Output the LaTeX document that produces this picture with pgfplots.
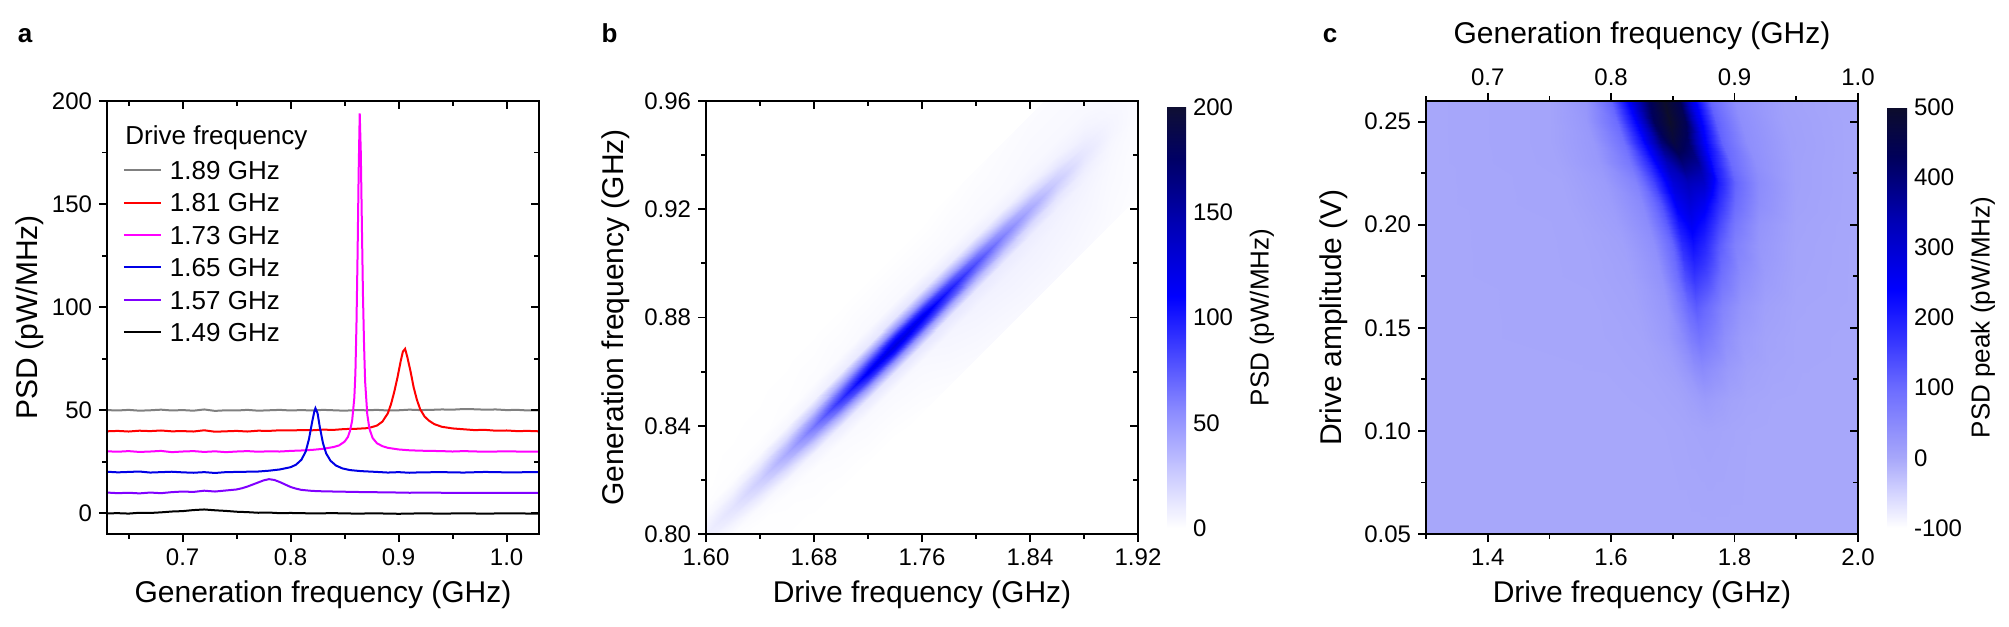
\documentclass[border=0pt]{standalone}
\usepackage{pgfplots}
\pgfplotsset{compat=1.18}
\usepackage{fontspec}
\setmainfont{Liberation Sans}
\newcommand{\tickfont}{\fontsize{12bp}{14bp}\selectfont}
\newcommand{\labfont}{\fontsize{15bp}{18bp}\selectfont}
\newcommand{\cbfont}{\fontsize{13bp}{15bp}\selectfont}
\newcommand{\legfont}{\fontsize{13bp}{15bp}\selectfont}
\definecolor{cgray}{rgb}{0.5,0.5,0.5}
\definecolor{cred}{rgb}{1,0,0}
\definecolor{cmag}{rgb}{1,0,1}
\definecolor{cblue}{rgb}{0,0,0.9}
\definecolor{cviol}{rgb}{0.5,0,1}
\pgfplotsset{
  colormap={cmapb}{rgb(0)=(1,1,1) rgb(25)=(0.8,0.8,1) rgb(55)=(0.55,0.55,1) rgb(85)=(0.25,0.25,1) rgb(110)=(0,0,1) rgb(145)=(0,0,0.7) rgb(175)=(0,0,0.4) rgb(200)=(0.06,0.06,0.2)},
  colormap={cmapc}{rgb(0)=(1,1,1) rgb(50)=(0.83,0.83,1) rgb(100)=(0.655,0.655,0.98) rgb(200)=(0.42,0.42,1) rgb(270)=(0.2,0.2,1) rgb(340)=(0,0,1) rgb(440)=(0,0,0.7) rgb(530)=(0,0,0.35) rgb(600)=(0.05,0.05,0.17)},
  /pgf/number format/assume math mode=true,
  myax/.style={
    scale only axis, width=216bp, height=216.5bp, anchor=south west,
    axis line style={line width=1bp, black},
    tick style={line width=0.9bp, black},
    major tick length=4bp, minor tick length=2.3bp,
    tick label style={font=\tickfont},
    label style={font=\labfont},
    xlabel style={at={(axis description cs:0.5,-0.141)}, anchor=center},
    ylabel style={anchor=center},
  },
  heat/.style={
    scale only axis, width=216bp, height=216.5bp, anchor=south west,
    view={0}{90}, hide axis, clip=true,
  },
  mycb/.style={
    width=9.5bp, height=210.5bp,
    at={(parent axis.east)}, anchor=west, xshift=6bp,
    major tick length=0pt, minor tick length=0pt,
    axis line style={draw=none},
    yticklabel style={font=\tickfont},
    ylabel style={font=\cbfont, anchor=center},
  },
}
\begin{document}
\begin{tikzpicture}
\useasboundingbox (0,0) rectangle (1004.5bp,313.5bp);

% ---------------- panel a ----------------
\begin{axis}[myax, at={(53.5bp,46.5bp)},
  xmin=0.63, xmax=1.03, ymin=-10, ymax=200,
  xtick={0.7,0.8,0.9,1.0}, minor xtick={0.65,0.75,0.85,0.95},
  ytick={0,50,100,150,200}, minor ytick={25,75,125,175},
  xtick pos=left, ytick pos=left, tick align=outside,
  xticklabel style={/pgf/number format/.cd, fixed, fixed zerofill, precision=1},
  xlabel={Generation frequency (GHz)}, ylabel={PSD (pW/MHz)},
  ylabel style={at={(axis description cs:-0.178,0.5)}},
  legend style={at={(axis description cs:0.037,0.862)}, anchor=north west, draw=none, fill=none,
    inner sep=0pt, outer sep=0pt, font=\legfont, row sep=6.8bp,
    nodes={inner sep=0pt, text height=9.4bp, text depth=0pt},
    /tikz/every odd column/.append style={column sep=4bp}},
  legend cell align=left,
  legend image code/.code={\draw[#1, line width=1bp] (0bp,0bp) -- (18.5bp,0bp);},
]
\addplot[cgray, line width=1bp] coordinates {(0.63,50.1) (0.64,49.9) (0.65,50.2) (0.66,49.8) (0.67,50.0) (0.68,50.3) (0.69,49.9) (0.70,50.1) (0.71,49.8) (0.72,50.4) (0.73,49.7) (0.74,50.0) (0.75,49.9) (0.76,50.2) (0.77,49.8) (0.78,50.0) (0.79,50.2) (0.80,49.9) (0.81,50.1) (0.82,49.9) (0.83,50.2) (0.84,50.0) (0.85,49.8) (0.86,50.1) (0.87,50.0) (0.88,50.2) (0.89,49.9) (0.90,50.0) (0.91,50.3) (0.92,50.1) (0.93,50.2) (0.94,50.4) (0.95,50.3) (0.96,50.6) (0.97,50.5) (0.98,50.3) (0.99,50.4) (1.00,50.1) (1.01,50.2) (1.02,49.9) (1.03,50.0)};
\addlegendentry{1.89 GHz}
\addplot[cred, line width=1bp] coordinates {(0.63,39.8) (0.64,40.0) (0.65,39.7) (0.66,40.1) (0.67,39.9) (0.68,40.2) (0.69,39.8) (0.70,39.9) (0.71,39.7) (0.72,40.3) (0.73,39.6) (0.74,39.8) (0.75,40.0) (0.76,39.7) (0.77,40.1) (0.78,40.0) (0.79,40.3) (0.80,40.2) (0.81,40.4) (0.82,40.3) (0.83,40.6) (0.84,40.5) (0.85,40.9) (0.86,41.0) (0.87,41.3) (0.875,41.8) (0.88,42.6) (0.885,44.5) (0.89,48.5) (0.893,53) (0.896,59) (0.899,66) (0.902,74) (0.904,78.5) (0.906,79.8) (0.908,76) (0.911,69) (0.914,61) (0.917,55) (0.92,50.5) (0.924,47) (0.928,45) (0.933,43.3) (0.94,42) (0.95,41.2) (0.96,40.8) (0.97,40.4) (0.98,40.5) (0.99,40.1) (1.00,40.2) (1.01,39.9) (1.02,40.0) (1.03,39.8)};
\addlegendentry{1.81 GHz}
\addplot[cmag, line width=1bp] coordinates {(0.63,30.1) (0.64,29.9) (0.65,30.2) (0.66,29.8) (0.67,30.0) (0.68,30.3) (0.69,29.7) (0.70,30.0) (0.71,30.2) (0.72,29.8) (0.73,30.1) (0.74,29.7) (0.75,30.0) (0.76,30.2) (0.77,29.9) (0.78,30.1) (0.79,30.0) (0.80,30.3) (0.81,30.5) (0.82,30.8) (0.83,31.3) (0.84,32.2) (0.845,33.0) (0.85,34.8) (0.853,37) (0.855,40) (0.857,45) (0.859,56) (0.860,68) (0.861,92) (0.862,125) (0.863,165) (0.864,194) (0.865,175) (0.866,140) (0.867,106) (0.868,82) (0.869,64) (0.871,48) (0.873,41) (0.876,36.5) (0.88,34) (0.885,32.6) (0.89,31.8) (0.90,31.0) (0.91,30.6) (0.92,30.4) (0.94,30.2) (0.95,30.0) (0.96,30.2) (0.98,29.9) (1.00,30.1) (1.02,29.9) (1.03,30.0)};
\addlegendentry{1.73 GHz}
\addplot[cblue, line width=1bp] coordinates {(0.63,20.2) (0.64,19.9) (0.65,20.1) (0.66,20.3) (0.67,19.8) (0.68,20.0) (0.69,20.2) (0.70,19.9) (0.71,19.7) (0.72,20.0) (0.73,19.6) (0.74,20.0) (0.75,20.1) (0.76,20.2) (0.77,20.3) (0.78,20.7) (0.79,21.3) (0.80,22.4) (0.805,23.6) (0.81,26) (0.814,30) (0.817,36) (0.82,44.5) (0.822,49.5) (0.823,51) (0.825,48.5) (0.827,42) (0.83,34) (0.833,29) (0.837,25.5) (0.842,23.2) (0.848,21.8) (0.855,21.0) (0.865,20.5) (0.88,20.1) (0.89,19.8) (0.90,20.0) (0.91,19.7) (0.92,19.9) (0.94,20.0) (0.96,19.8) (0.98,20.1) (1.00,19.9) (1.03,20.0)};
\addlegendentry{1.65 GHz}
\addplot[cviol, line width=1bp] coordinates {(0.63,10.1) (0.64,9.8) (0.65,10.0) (0.66,9.7) (0.67,10.1) (0.68,9.8) (0.69,10.3) (0.70,10.6) (0.71,10.4) (0.72,11.0) (0.73,10.6) (0.74,11.1) (0.75,11.6) (0.755,12.2) (0.76,13.0) (0.765,14.0) (0.77,15.0) (0.775,16.0) (0.78,16.6) (0.785,16.2) (0.79,15.2) (0.795,14.0) (0.80,12.8) (0.805,12.0) (0.81,11.4) (0.82,10.9) (0.83,10.7) (0.85,10.5) (0.87,10.3) (0.89,10.2) (0.91,10.0) (0.93,10.1) (0.95,9.9) (0.97,10.0) (1.00,9.9) (1.03,10.0)};
\addlegendentry{1.57 GHz}
\addplot[black, line width=1bp] coordinates {(0.63,0.0) (0.64,0.1) (0.65,-0.1) (0.66,0.3) (0.67,0.2) (0.68,0.5) (0.69,0.9) (0.70,1.1) (0.71,1.6) (0.72,1.9) (0.73,1.5) (0.74,1.2) (0.75,0.8) (0.76,0.6) (0.77,0.3) (0.78,0.4) (0.79,0.1) (0.80,0.2) (0.82,0.0) (0.84,0.1) (0.86,-0.1) (0.88,0.0) (0.90,-0.2) (0.92,0.0) (0.94,-0.1) (0.96,0.0) (0.98,-0.1) (1.00,0.0) (1.03,-0.1)};
\addlegendentry{1.49 GHz}
\node[anchor=base west, inner sep=0pt, font=\legfont] at (axis description cs:0.0417,0.9) {Drive frequency};
\end{axis}
\begin{axis}[myax, at={(53.5bp,46.5bp)},
  xmin=0.63, xmax=1.03, ymin=-10, ymax=200,
  xtick={0.7,0.8,0.9,1.0}, minor xtick={0.65,0.75,0.85,0.95},
  ytick={0,50,100,150,200}, minor ytick={25,75,125,175},
  xtick pos=right, ytick pos=right, tick align=inside, xticklabels={}, yticklabels={}]
\end{axis}

% ---------------- panel b ----------------
\begin{axis}[heat, at={(353bp,46.5bp)}, xmin=1.60, xmax=1.92, ymin=0.80, ymax=0.96,
  colormap name=cmapb, point meta min=0, point meta max=200]
\addplot3[surf, shader=interp, mesh/cols=11] coordinates {
(1.58,0.755,0) (1.58,0.774,0.1) (1.58,0.780,0.3) (1.58,0.784,1.3) (1.58,0.787,2.3) (1.58,0.790,3) (1.58,0.793,2.3) (1.58,0.796,1.3) (1.58,0.800,0.3) (1.58,0.806,0.1) (1.58,0.825,0)
(1.60,0.765,0) (1.60,0.784,0.2) (1.60,0.790,0.8) (1.60,0.794,3.4) (1.60,0.797,6.2) (1.60,0.800,8) (1.60,0.803,6.2) (1.60,0.806,3.4) (1.60,0.810,0.8) (1.60,0.816,0.2) (1.60,0.835,0)
(1.62,0.775,0) (1.62,0.794,0.4) (1.62,0.800,1.4) (1.62,0.804,5.9) (1.62,0.807,10.9) (1.62,0.810,14) (1.62,0.813,10.9) (1.62,0.816,5.9) (1.62,0.820,1.4) (1.62,0.826,0.4) (1.62,0.845,0)
(1.64,0.785,0) (1.64,0.804,0.6) (1.64,0.810,2.5) (1.64,0.814,10.5) (1.64,0.817,19.5) (1.64,0.820,25) (1.64,0.823,19.5) (1.64,0.826,10.5) (1.64,0.830,2.5) (1.64,0.836,0.6) (1.64,0.855,0)
(1.66,0.795,0) (1.66,0.814,1.0) (1.66,0.820,4.2) (1.66,0.824,17.6) (1.66,0.827,32.8) (1.66,0.830,42) (1.66,0.833,32.8) (1.66,0.836,17.6) (1.66,0.840,4.2) (1.66,0.846,1.0) (1.66,0.865,0)
(1.68,0.805,0) (1.68,0.824,1.6) (1.68,0.830,6.5) (1.68,0.834,27.3) (1.68,0.837,50.7) (1.68,0.840,65) (1.68,0.843,50.7) (1.68,0.846,27.3) (1.68,0.850,6.5) (1.68,0.856,1.6) (1.68,0.875,0)
(1.70,0.815,0) (1.70,0.834,2.3) (1.70,0.840,9.2) (1.70,0.844,38.6) (1.70,0.847,71.8) (1.70,0.850,92) (1.70,0.853,71.8) (1.70,0.856,38.6) (1.70,0.860,9.2) (1.70,0.866,2.3) (1.70,0.885,0)
(1.72,0.825,0) (1.72,0.844,2.9) (1.72,0.850,11.5) (1.72,0.854,48.3) (1.72,0.857,89.7) (1.72,0.860,115) (1.72,0.863,89.7) (1.72,0.866,48.3) (1.72,0.870,11.5) (1.72,0.876,2.9) (1.72,0.895,0)
(1.74,0.835,0) (1.74,0.854,3.1) (1.74,0.860,12.5) (1.74,0.864,52.5) (1.74,0.867,97.5) (1.74,0.870,125) (1.74,0.873,97.5) (1.74,0.876,52.5) (1.74,0.880,12.5) (1.74,0.886,3.1) (1.74,0.905,0)
(1.76,0.845,0.5) (1.76,0.864,3.5) (1.76,0.870,12.5) (1.76,0.874,49.6) (1.76,0.877,92) (1.76,0.880,118) (1.76,0.883,92) (1.76,0.886,49.6) (1.76,0.890,12) (1.76,0.896,3) (1.76,0.915,0)
(1.78,0.855,1.5) (1.78,0.874,5) (1.78,0.880,12) (1.78,0.884,42) (1.78,0.887,78) (1.78,0.890,100) (1.78,0.893,78) (1.78,0.896,42) (1.78,0.900,10) (1.78,0.906,3) (1.78,0.925,0.5)
(1.80,0.865,2.5) (1.80,0.884,6) (1.80,0.890,11) (1.80,0.894,34) (1.80,0.897,62.4) (1.80,0.900,80) (1.80,0.903,62.4) (1.80,0.906,33.6) (1.80,0.910,8.5) (1.80,0.916,3) (1.80,0.935,1)
(1.82,0.875,3) (1.82,0.894,6.5) (1.82,0.900,10) (1.82,0.904,26) (1.82,0.907,46.8) (1.82,0.910,60) (1.82,0.913,46.8) (1.82,0.916,25.2) (1.82,0.920,7) (1.82,0.926,3) (1.82,0.945,1.5)
(1.84,0.885,3.5) (1.84,0.904,6.5) (1.84,0.910,9) (1.84,0.914,19) (1.84,0.917,33) (1.84,0.920,42) (1.84,0.923,33) (1.84,0.926,18) (1.84,0.930,6.5) (1.84,0.936,3.5) (1.84,0.955,2)
(1.86,0.895,3.5) (1.86,0.914,6) (1.86,0.920,7.5) (1.86,0.924,12.5) (1.86,0.927,20) (1.86,0.930,25) (1.86,0.933,20) (1.86,0.936,12) (1.86,0.940,6) (1.86,0.946,3.5) (1.86,0.965,2)
(1.88,0.905,3) (1.88,0.924,5) (1.88,0.930,6) (1.88,0.934,8) (1.88,0.937,10.5) (1.88,0.940,12) (1.88,0.943,10.5) (1.88,0.946,8) (1.88,0.950,5.5) (1.88,0.956,3.5) (1.88,0.975,2)
(1.90,0.915,2) (1.90,0.934,3) (1.90,0.940,3.5) (1.90,0.944,4) (1.90,0.947,4.8) (1.90,0.950,5) (1.90,0.953,4.8) (1.90,0.956,4) (1.90,0.960,3.5) (1.90,0.966,2.5) (1.90,0.985,1.5)
(1.92,0.925,1) (1.92,0.944,1.5) (1.92,0.950,1.7) (1.92,0.954,1.9) (1.92,0.957,2) (1.92,0.960,2) (1.92,0.963,2) (1.92,0.966,1.9) (1.92,0.970,1.7) (1.92,0.976,1.5) (1.92,0.995,1)
(1.94,0.935,0) (1.94,0.954,0) (1.94,0.960,0) (1.94,0.964,0) (1.94,0.967,0) (1.94,0.970,0) (1.94,0.973,0) (1.94,0.976,0) (1.94,0.980,0) (1.94,0.986,0) (1.94,1.005,0)
};
\end{axis}
\begin{axis}[myax, at={(353bp,46.5bp)},
  xmin=1.60, xmax=1.92, ymin=0.80, ymax=0.96,
  xtick={1.60,1.68,1.76,1.84,1.92}, minor xtick={1.64,1.72,1.80,1.88},
  ytick={0.80,0.84,0.88,0.92,0.96}, minor ytick={0.82,0.86,0.90,0.94},
  xtick pos=left, ytick pos=left, tick align=outside,
  xticklabel style={/pgf/number format/.cd, fixed, fixed zerofill, precision=2},
  yticklabel style={/pgf/number format/.cd, fixed, fixed zerofill, precision=2},
  xlabel={Drive frequency (GHz)}, ylabel={Generation frequency (GHz)},
  ylabel style={at={(axis description cs:-0.209,0.5)}},
  colorbar, colormap name=cmapb, point meta min=0, point meta max=200,
  colorbar style={mycb, ytick={0,50,100,150,200}, ylabel={PSD (pW/MHz)},
    ylabel style={at={(axis description cs:5.0,0.5)}}},
]
\end{axis}
\begin{axis}[myax, at={(353bp,46.5bp)},
  xmin=1.60, xmax=1.92, ymin=0.80, ymax=0.96,
  xtick={1.60,1.68,1.76,1.84,1.92}, minor xtick={1.64,1.72,1.80,1.88},
  ytick={0.80,0.84,0.88,0.92,0.96}, minor ytick={0.82,0.86,0.90,0.94},
  xtick pos=right, ytick pos=right, tick align=inside, xticklabels={}, yticklabels={}]
\end{axis}

% ---------------- panel c ----------------
\begin{axis}[heat, at={(713bp,46.5bp)}, xmin=1.3, xmax=2.0, ymin=0.05, ymax=0.26,
  colormap name=cmapc, point meta min=-100, point meta max=500]
\addplot3[surf, shader=interp, mesh/cols=13] coordinates {
(1.30,0.05,0) (1.60,0.05,0) (1.67,0.05,0) (1.71,0.05,0) (1.73,0.05,0) (1.745,0.05,0) (1.755,0.05,0) (1.77,0.05,0) (1.795,0.05,0) (1.82,0.05,0) (1.86,0.05,0) (1.91,0.05,0) (2.00,0.05,0)
(1.30,0.10,0) (1.60,0.10,0) (1.67,0.10,0) (1.71,0.10,2) (1.73,0.10,4) (1.745,0.10,5) (1.755,0.10,6) (1.77,0.10,5) (1.795,0.10,3) (1.82,0.10,1) (1.86,0.10,0) (1.91,0.10,0) (2.00,0.10,0)
(1.30,0.115,0) (1.60,0.115,0) (1.67,0.115,2) (1.71,0.115,6) (1.73,0.115,12) (1.745,0.115,18) (1.752,0.115,20) (1.77,0.115,15) (1.795,0.115,8) (1.82,0.115,4) (1.86,0.115,1) (1.91,0.115,0) (2.00,0.115,0)
(1.30,0.13,0) (1.59,0.13,1) (1.66,0.13,4) (1.70,0.13,12) (1.72,0.13,25) (1.735,0.13,40) (1.748,0.13,48) (1.765,0.13,38) (1.79,0.13,22) (1.82,0.13,10) (1.86,0.13,4) (1.91,0.13,1) (2.00,0.13,0)
(1.30,0.145,0) (1.58,0.145,2) (1.65,0.145,6) (1.69,0.145,20) (1.715,0.145,45) (1.73,0.145,70) (1.742,0.145,85) (1.76,0.145,70) (1.785,0.145,40) (1.81,0.145,20) (1.85,0.145,8) (1.90,0.145,2) (2.00,0.145,0)
(1.30,0.16,0) (1.57,0.16,2) (1.64,0.16,8) (1.69,0.16,28) (1.71,0.16,65) (1.725,0.16,100) (1.738,0.16,120) (1.755,0.16,100) (1.78,0.16,60) (1.81,0.16,30) (1.85,0.16,12) (1.90,0.16,3) (2.00,0.16,0)
(1.30,0.175,0) (1.56,0.175,3) (1.63,0.175,10) (1.68,0.175,35) (1.705,0.175,90) (1.72,0.175,140) (1.735,0.175,170) (1.755,0.175,145) (1.78,0.175,90) (1.81,0.175,45) (1.85,0.175,20) (1.90,0.175,5) (2.00,0.175,0)
(1.30,0.19,0) (1.55,0.19,3) (1.62,0.19,12) (1.67,0.19,40) (1.70,0.19,110) (1.715,0.19,180) (1.732,0.19,220) (1.75,0.19,190) (1.775,0.19,120) (1.80,0.19,65) (1.84,0.19,28) (1.90,0.19,6) (2.00,0.19,0)
(1.30,0.20,0) (1.54,0.20,3) (1.61,0.20,15) (1.66,0.20,45) (1.69,0.20,120) (1.71,0.20,210) (1.73,0.20,255) (1.75,0.20,220) (1.775,0.20,145) (1.80,0.20,80) (1.84,0.20,32) (1.90,0.20,7) (2.00,0.20,0)
(1.30,0.21,0) (1.53,0.21,4) (1.60,0.21,18) (1.65,0.21,50) (1.68,0.21,130) (1.705,0.21,250) (1.727,0.21,290) (1.75,0.21,260) (1.775,0.21,175) (1.80,0.21,100) (1.84,0.21,42) (1.90,0.21,9) (2.00,0.21,0)
(1.30,0.22,0) (1.52,0.22,4) (1.59,0.22,20) (1.64,0.22,60) (1.67,0.22,150) (1.70,0.22,290) (1.725,0.22,330) (1.75,0.22,310) (1.775,0.22,200) (1.80,0.22,110) (1.84,0.22,45) (1.90,0.22,10) (2.00,0.22,0)
(1.30,0.23,0) (1.51,0.23,5) (1.58,0.23,25) (1.63,0.23,80) (1.66,0.23,180) (1.69,0.23,330) (1.715,0.23,400) (1.74,0.23,370) (1.765,0.23,215) (1.795,0.23,100) (1.835,0.23,40) (1.90,0.23,10) (2.00,0.23,0)
(1.30,0.24,0) (1.50,0.24,5) (1.57,0.24,25) (1.62,0.24,90) (1.65,0.24,220) (1.68,0.24,400) (1.70,0.24,470) (1.725,0.24,420) (1.75,0.24,250) (1.78,0.24,110) (1.82,0.24,42) (1.89,0.24,12) (2.00,0.24,0)
(1.30,0.25,0) (1.50,0.25,5) (1.56,0.25,25) (1.61,0.25,100) (1.64,0.25,240) (1.67,0.25,430) (1.695,0.25,500) (1.72,0.25,440) (1.74,0.25,270) (1.77,0.25,115) (1.81,0.25,42) (1.88,0.25,12) (2.00,0.25,0)
(1.30,0.26,0) (1.50,0.26,5) (1.56,0.26,30) (1.60,0.26,110) (1.63,0.26,260) (1.66,0.26,420) (1.685,0.26,500) (1.71,0.26,440) (1.73,0.26,280) (1.76,0.26,110) (1.80,0.26,40) (1.88,0.26,10) (2.00,0.26,0)
};
\end{axis}
\begin{axis}[myax, at={(713bp,46.5bp)},
  xmin=1.3, xmax=2.0, ymin=0.05, ymax=0.26,
  xtick={1.4,1.6,1.8,2.0}, minor xtick={1.3,1.5,1.7,1.9},
  ytick={0.05,0.10,0.15,0.20,0.25}, minor ytick={0.075,0.125,0.175,0.225},
  xtick pos=left, ytick pos=left, tick align=outside,
  xticklabel style={/pgf/number format/.cd, fixed, fixed zerofill, precision=1},
  yticklabel style={/pgf/number format/.cd, fixed, fixed zerofill, precision=2},
  xlabel={Drive frequency (GHz)}, ylabel={Drive amplitude (V)},
  ylabel style={at={(axis description cs:-0.213,0.5)}},
  colorbar, colormap name=cmapc, point meta min=-100, point meta max=500,
  colorbar style={mycb, width=10bp, ytick={-100,0,100,200,300,400,500}, ylabel={PSD peak (pW/MHz)},
    ylabel style={at={(axis description cs:4.8,0.5)}}},
]
\end{axis}
\begin{axis}[myax, at={(713bp,46.5bp)},
  xmin=1.3, xmax=2.0, ymin=0.05, ymax=0.26,
  xtick=\empty,
  ytick={0.05,0.10,0.15,0.20,0.25}, minor ytick={0.075,0.125,0.175,0.225},
  ytick pos=right, tick align=inside, yticklabels={}]
\end{axis}
\begin{axis}[myax, at={(713bp,46.5bp)},
  xmin=0.65, xmax=1.0, ymin=0, ymax=1,
  xtick={0.7,0.8,0.9,1.0}, minor xtick={0.65,0.75,0.85,0.95},
  ytick=\empty,
  xtick pos=right, xticklabel pos=right, tick align=outside,
  xticklabel style={/pgf/number format/.cd, fixed, fixed zerofill, precision=1},
  xlabel={Generation frequency (GHz)},
  xlabel style={at={(axis description cs:0.5,1.150)}, anchor=center},
]
\end{axis}

\node[anchor=base, inner sep=0pt, font=\bfseries\fontsize{13bp}{15bp}\selectfont] at (12.5bp,292bp) {a};
\node[anchor=base, inner sep=0pt, font=\bfseries\fontsize{13bp}{15bp}\selectfont] at (304.75bp,292bp) {b};
\node[anchor=base, inner sep=0pt, font=\bfseries\fontsize{13bp}{15bp}\selectfont] at (665bp,292bp) {c};
\end{tikzpicture}
\end{document}
